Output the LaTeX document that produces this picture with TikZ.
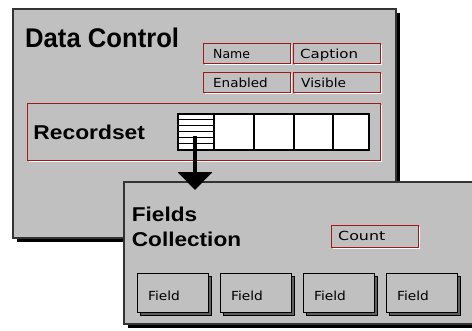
\documentclass[tikz,border=0pt]{standalone}
\usepackage{fontspec}
\setmainfont{Liberation Sans}
\newfontfamily\smallfnt{DejaVu Sans}
\usetikzlibrary{shadows,arrows.meta}
\definecolor{panel}{HTML}{C0C0C0}
\definecolor{propred}{HTML}{A01818}
\definecolor{fshadow}{HTML}{606060}
\tikzset{
  panelbox/.style={draw=black!80, line width=1.5pt, fill=panel, anchor=north west, inner sep=0pt,
    drop shadow={shadow xshift=4pt, shadow yshift=-4pt, fill=black, opacity=1}},
  propbox/.style={draw=propred, line width=1.4pt, fill=panel, anchor=north west, inner sep=0pt,
    minimum width=87pt, minimum height=20pt,
    drop shadow={shadow xshift=1.3pt, shadow yshift=-1.3pt, fill=white, opacity=1}},
  fieldbox/.style={draw=black, line width=1.2pt, fill=panel, anchor=north west, inner sep=0pt,
    minimum width=71pt, minimum height=39pt,
    drop shadow={shadow xshift=3pt, shadow yshift=-3pt, fill=fshadow, draw=black, line width=1pt, opacity=1}},
  cellbox/.style={draw=black, line width=1.8pt, fill=white, anchor=north west, inner sep=0pt,
    minimum height=36pt},
  heading/.style={anchor=base west, inner sep=0pt, font=\bfseries},
  proplabel/.style={anchor=base west, inner sep=0pt, font=\smallfnt\fontsize{12.5}{14}\selectfont},
}
\begin{document}
\begin{tikzpicture}[x=1pt,y=-1pt]
\useasboundingbox (0,0) rectangle (472,330);
\fill[white] (0,0) rectangle (472,330);

% Data Control panel
\node[panelbox, minimum width=383pt, minimum height=229pt] (dc) at (12,8) {};
\node[heading, font=\bfseries\fontsize{27}{30}\selectfont] (dctitle) at (25,47.7) {\scalebox{0.95}[1]{Data Control}};

% properties
\node[propbox] (name) at (203,43) {};
\node[propbox] (caption) at (293,43) {};
\node[propbox] (enabled) at (203,72) {};
\node[propbox] (visible) at (293,72) {};
\node[proplabel] (namet) at (213,58) {Name};
\node[proplabel] (captiont) at (300,58) {\scalebox{1.2}[1]{Caption}};
\node[proplabel] (enabledt) at (213,87) {\scalebox{1.08}[1]{Enabled}};
\node[proplabel] (visiblet) at (301,87) {\scalebox{1.1}[1]{Visible}};

% Recordset
\node[propbox, minimum width=353pt, minimum height=57pt] (rs) at (27,103) {};
\node[heading, font=\bfseries\fontsize{20}{24}\selectfont] (rstitle) at (33.3,139.3) {\scalebox{1.14}[1]{Recordset}};

% grid
\node[cellbox, minimum width=36pt] (c0) at (177,113) {};
\foreach \yy in {119.5,125.5,131.5,137.5,143.5}
  \draw[line width=1.5pt] (c0.west |- 0,\yy) -- (c0.east |- 0,\yy);
\node[cellbox, minimum width=40pt] (c1) at (213,113) {};
\node[cellbox, minimum width=40pt] (c2) at (253,113) {};
\node[cellbox, minimum width=39pt] (c3) at (293,113) {};
\node[cellbox, minimum width=36pt] (c4) at (332,113) {};

% Fields Collection panel
\node[panelbox, minimum width=365pt, minimum height=142pt] (fc) at (123,181) {};
\node[heading, font=\bfseries\fontsize{20}{24}\selectfont] (fct1) at (131.7,221.7) {\scalebox{1.13}[1]{Fields}};
\node[heading, font=\bfseries\fontsize{20}{24}\selectfont] (fct2) at (131.7,246) {\scalebox{1.13}[1]{Collection}};

\node[propbox, minimum height=22pt] (count) at (331,225) {};
\node[proplabel] (countt) at (338,240) {\scalebox{1.27}[1]{Count}};

\foreach \xx/\nm in {137/f1,220/f2,303/f3,386/f4}{
  \node[fieldbox] (\nm) at (\xx,273) {};
  \node[proplabel] (\nm t) at (\xx+11,300) {\scalebox{1.1}[1]{Field}};
}

% arrow
\coordinate (arrstart) at (195,136);
\coordinate (arrend) at (195,190);
\draw[line width=4pt, -{Triangle[width=34pt,length=18pt]}] (arrstart) -- (arrend);
\end{tikzpicture}
\end{document}
